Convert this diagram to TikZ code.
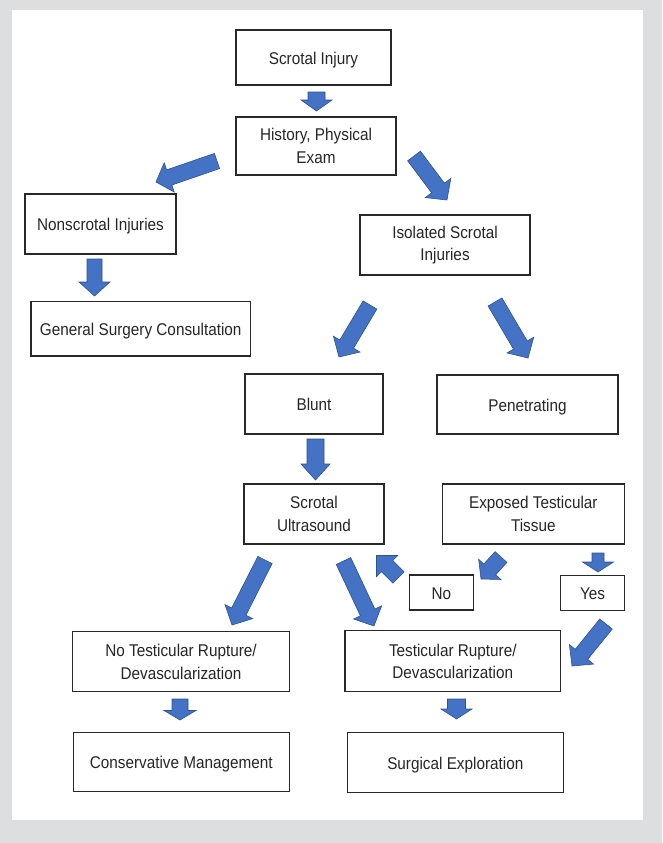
\documentclass[tikz,border=0pt]{standalone}
\usepackage{fontspec}
\setmainfont{Liberation Sans}[FakeStretch=0.9]
\usetikzlibrary{calc}
\definecolor{bgray}{RGB}{221,222,224}
\definecolor{afill}{RGB}{68,114,196}
\definecolor{aline}{RGB}{47,82,143}
\definecolor{bline}{RGB}{40,40,40}
\tikzset{
  box/.style={draw=bline, line width=1.1pt, fill=white, align=center, inner sep=0pt,
    font=\fontsize{17}{22.5}\selectfont, text=black!85},
  one/.style={text height=13pt, text depth=0pt},
  barrow/.style={fill=afill, draw=aline, line width=0.6pt, line join=miter}
}
\newcommand{\blockarrow}[5]{%
  \coordinate (ba-h) at ($(#2)!#5!(#1)$);
  \draw[barrow] ($(#1)!#3!90:(#2)$) -- ($(ba-h)!#3!90:(#2)$) -- ($(ba-h)!#4!90:(#2)$) -- (#2)
    -- ($(ba-h)!#4!-90:(#2)$) -- ($(ba-h)!#3!-90:(#2)$) -- ($(#1)!#3!-90:(#2)$) -- cycle;
}
\begin{document}
\begin{tikzpicture}[x=1pt,y=-1pt]
\fill[bgray] (0,0) rectangle (662,843);
\useasboundingbox (0,0) rectangle (662,843);
\fill[white] (12,10) rectangle (643,820);

\node[box, one, minimum width=155pt, minimum height=55pt] (inj) at (313.5,57.5) {Scrotal Injury};
\node[box, minimum width=160pt, minimum height=58pt] (hist) at (316,146) {History, Physical\\Exam};
\node[box, one, minimum width=151pt, minimum height=60pt] (nons) at (100.5,224) {Nonscrotal Injuries};
\node[box, one, minimum width=219.5pt, minimum height=54.5pt] (gen) at (140.75,328.75) {General Surgery Consultation};
\node[box, minimum width=170pt, minimum height=60pt] (iso) at (445,245) {Isolated Scrotal\\Injuries};
\node[box, one, minimum width=138pt, minimum height=60pt] (blunt) at (314,404) {Blunt};
\node[box, one, minimum width=181pt, minimum height=59pt] (pen) at (527.5,404.5) {Penetrating};
\node[box, minimum width=140pt, minimum height=60pt] (us) at (314,514) {Scrotal\\Ultrasound};
\node[box, minimum width=182pt, minimum height=60pt] (exp) at (533.3,514) {Exposed Testicular\\Tissue};
\node[box, one, minimum width=64pt, minimum height=35pt] (no) at (441.3,592.5) {No};
\node[box, one, minimum width=63.6pt, minimum height=35.7pt] (yes) at (592.5,593) {Yes};
\node[box, minimum width=216.6pt, minimum height=60pt] (notr) at (181,661.7) {No Testicular Rupture/\\Devascularization};
\node[box, minimum width=215.7pt, minimum height=61pt] (tr) at (452.8,661.2) {Testicular Rupture/\\Devascularization};
\node[box, one, minimum width=216pt, minimum height=59.4pt] (cons) at (181.3,762) {Conservative Management};
\node[box, one, minimum width=216pt, minimum height=60pt] (surg) at (455.3,762.7) {Surgical Exploration};

% arrow tails and tips
\coordinate (a1t) at (316.5,92);   \coordinate (a1h) at (316.5,111);
\coordinate (a2t) at (217,161);    \coordinate (a2h) at (156,182);
\coordinate (a3t) at (414,156);    \coordinate (a3h) at (447,200);
\coordinate (a4t) at (94.5,259);   \coordinate (a4h) at (94.5,296);
\coordinate (a5t) at (370,305);    \coordinate (a5h) at (339,357);
\coordinate (a6t) at (495,302);    \coordinate (a6h) at (528,358);
\coordinate (a7t) at (315.5,439);  \coordinate (a7h) at (315.5,480);
\coordinate (a8t) at (265,560);    \coordinate (a8h) at (232,625);
\coordinate (a9t) at (343.5,561);  \coordinate (a9h) at (374,626);
\coordinate (a10t) at (398.5,577.5); \coordinate (a10h) at (376.5,555.5);
\coordinate (a11t) at (501,557);   \coordinate (a11h) at (481,579);
\coordinate (a12t) at (598,553);   \coordinate (a12h) at (598,572);
\coordinate (a13t) at (606,624);   \coordinate (a13h) at (572,666);
\coordinate (a14t) at (180,699);   \coordinate (a14h) at (180,720);
\coordinate (a15t) at (456.5,699); \coordinate (a15h) at (456.5,719);

\blockarrow{a1t}{a1h}{8.5pt}{15.5pt}{11pt}
\blockarrow{a2t}{a2h}{8pt}{15.5pt}{14pt}
\blockarrow{a3t}{a3h}{8pt}{16pt}{15pt}
\blockarrow{a4t}{a4h}{7.5pt}{15.5pt}{14pt}
\blockarrow{a5t}{a5h}{8pt}{15.5pt}{15pt}
\blockarrow{a6t}{a6h}{8pt}{15.5pt}{15pt}
\blockarrow{a7t}{a7h}{8.5pt}{14.5pt}{16pt}
\blockarrow{a8t}{a8h}{8pt}{15.5pt}{15pt}
\blockarrow{a9t}{a9h}{8pt}{15.5pt}{15pt}
\blockarrow{a10t}{a10h}{8pt}{15pt}{15pt}
\blockarrow{a11t}{a11h}{8pt}{15pt}{13pt}
\blockarrow{a12t}{a12h}{6pt}{15.5pt}{10pt}
\blockarrow{a13t}{a13h}{8pt}{15.5pt}{15pt}
\blockarrow{a14t}{a14h}{8pt}{16pt}{9.5pt}
\blockarrow{a15t}{a15h}{9pt}{15.5pt}{10pt}
\end{tikzpicture}
\end{document}
